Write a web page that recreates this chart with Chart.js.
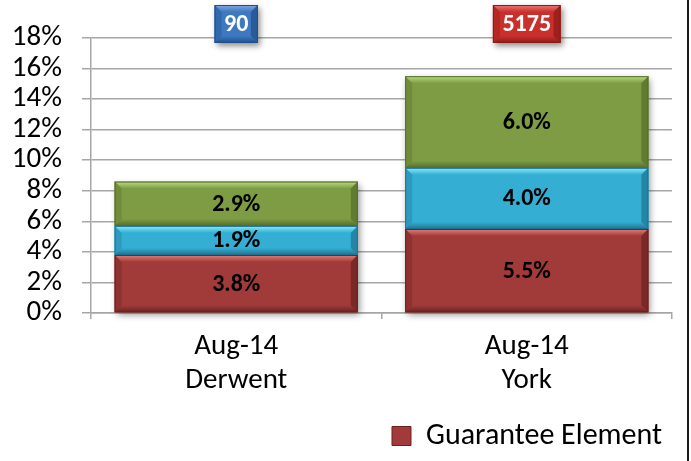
<!DOCTYPE html>
<html><head><meta charset="utf-8">
<script src="https://cdn.jsdelivr.net/npm/chart.js@4/dist/chart.umd.min.js"></script>
<style>
html,body{margin:0;padding:0;background:#fff;}
#wrap{position:relative;width:687px;height:461px;border-right:2px solid #1a1a1a;}
canvas{display:block;}
</style></head><body>
<div id="wrap"><canvas id="c" width="687" height="461"></canvas></div>
<script>
// ---- data ----
const categories = [["Aug-14", "Derwent"], ["Aug-14", "York"]];
const guaranteeElement = [3.8, 5.5];
const middleElement = [1.9, 4.0];
const topElement = [2.9, 6.0];
const headerCounts = [90, 5175];
const yMin = 0, yMax = 18, yStep = 2;

// ---- styles ----
const FONT = "Carlito, Lato, 'Open Sans', sans-serif";
const seriesStyle = [
  {base: '#A13B39', light: '#E57E7B', dark: '#6A2221'},
  {base: '#35AED4', light: '#86ECFF', dark: '#1E7391'},
  {base: '#7E9C43', light: '#BCDC80', dark: '#566D2B'}
];
const headerStyle = [
  {base: '#3D78C0', light: '#7FA9E0', dark: '#1F4E88'},
  {base: '#C9302C', light: '#EE7A76', dark: '#8A1A18'}
];
const gridColor = '#A6A6A6';

function bevelRect(ctx, l, t, r, b, st, d) {
  d = Math.min(d, (b - t) / 2.2, (r - l) / 2.2);
  ctx.save();
  ctx.fillStyle = st.base;
  ctx.fillRect(l, t, r - l, b - t);
  let g = ctx.createLinearGradient(0, t, 0, t + d);
  g.addColorStop(0, st.light); g.addColorStop(1, st.base);
  ctx.fillStyle = g;
  ctx.beginPath(); ctx.moveTo(l, t); ctx.lineTo(r, t); ctx.lineTo(r - d, t + d); ctx.lineTo(l + d, t + d); ctx.closePath(); ctx.fill();
  g = ctx.createLinearGradient(0, b - d, 0, b);
  g.addColorStop(0, st.base); g.addColorStop(1, st.dark);
  ctx.fillStyle = g;
  ctx.beginPath(); ctx.moveTo(l, b); ctx.lineTo(r, b); ctx.lineTo(r - d, b - d); ctx.lineTo(l + d, b - d); ctx.closePath(); ctx.fill();
  ctx.globalAlpha = 0.35;
  ctx.fillStyle = st.dark;
  ctx.beginPath(); ctx.moveTo(l, t); ctx.lineTo(l + d, t + d); ctx.lineTo(l + d, b - d); ctx.lineTo(l, b); ctx.closePath(); ctx.fill();
  ctx.globalAlpha = 0.7;
  ctx.beginPath(); ctx.moveTo(r, t); ctx.lineTo(r - d, t + d); ctx.lineTo(r - d, b - d); ctx.lineTo(r, b); ctx.closePath(); ctx.fill();
  ctx.globalAlpha = 1;
  ctx.strokeStyle = st.dark; ctx.lineWidth = 1;
  ctx.strokeRect(l + 0.5, t + 0.5, r - l - 1, b - t - 1);
  ctx.restore();
}

const shadowPlugin = {
  id: 'shadow',
  beforeDatasetsDraw(chart) {
    const ctx = chart.ctx;
    const metas = chart.data.datasets.map((d, i) => chart.getDatasetMeta(i));
    metas[0].data.forEach((el, i) => {
      const topEl = metas[metas.length - 1].data[i];
      const l = el.x - el.width / 2, r = el.x + el.width / 2;
      ctx.save();
      ctx.shadowColor = 'rgba(0,0,0,0.45)';
      ctx.shadowBlur = 7; ctx.shadowOffsetX = 2; ctx.shadowOffsetY = 3;
      ctx.fillStyle = '#777';
      ctx.fillRect(l, topEl.y, r - l, el.base - topEl.y);
      ctx.restore();
    });
  }
};

const bevelPlugin = {
  id: 'bevel',
  afterDatasetsDraw(chart) {
    const ctx = chart.ctx;
    chart.data.datasets.forEach((ds, di) => {
      const meta = chart.getDatasetMeta(di);
      meta.data.forEach((el) => {
        const l = el.x - el.width / 2, r = el.x + el.width / 2;
        const t = Math.min(el.y, el.base), b = Math.max(el.y, el.base);
        bevelRect(ctx, l, t, r, b, seriesStyle[di], 7);
      });
    });
    chart.data.datasets.forEach((ds, di) => {
      const meta = chart.getDatasetMeta(di);
      meta.data.forEach((el, i) => {
        ctx.save();
        ctx.font = "bold 24px " + FONT;
        ctx.fillStyle = '#000';
        ctx.textAlign = 'center'; ctx.textBaseline = 'middle';
        ctx.fillText(ds.data[i].toFixed(1) + '%', el.x, (el.y + el.base) / 2 + 1);
        ctx.restore();
      });
    });
    const meta0 = chart.getDatasetMeta(0);
    headerCounts.forEach((v, i) => {
      const x = meta0.data[i].x;
      ctx.save();
      ctx.font = "bold 24px " + FONT;
      const tw = ctx.measureText(String(v)).width;
      const w = tw + 19, h = 38, t = 5;
      const l = x - w / 2;
      ctx.shadowColor = 'rgba(0,0,0,0.45)';
      ctx.shadowBlur = 6; ctx.shadowOffsetX = 2; ctx.shadowOffsetY = 3;
      ctx.fillStyle = headerStyle[i].base;
      ctx.fillRect(l, t, w, h);
      ctx.restore();
      bevelRect(ctx, l, t, l + w, t + h, headerStyle[i], 7);
      ctx.save();
      ctx.font = "bold 24px " + FONT;
      ctx.fillStyle = '#fff';
      ctx.textAlign = 'center'; ctx.textBaseline = 'middle';
      ctx.fillText(String(v), x, t + h / 2 + 1);
      ctx.restore();
    });
  }
};

new Chart(document.getElementById('c'), {
  type: 'bar',
  data: {
    labels: categories,
    datasets: [
      {label: 'Guarantee Element', data: guaranteeElement, backgroundColor: seriesStyle[0].base},
      {label: 'Element 2', data: middleElement, backgroundColor: seriesStyle[1].base},
      {label: 'Element 3', data: topElement, backgroundColor: seriesStyle[2].base}
    ]
  },
  options: {
    responsive: false,
    animation: false,
    devicePixelRatio: 1,
    categoryPercentage: 0.837,
    barPercentage: 1.0,
    layout: {padding: {top: 38, left: 0, right: 15, bottom: 0}},
    plugins: {
      legend: {
        position: 'bottom', align: 'end',
        labels: {
          boxWidth: 19, boxHeight: 19,
          padding: 10,
          color: '#000',
          font: {size: 30, family: FONT},
          generateLabels: (chart) => [{
            text: chart.data.datasets[0].label, datasetIndex: 0,
            fillStyle: seriesStyle[0].base, strokeStyle: seriesStyle[0].dark, lineWidth: 1, hidden: false
          }]
        }
      },
      tooltip: {enabled: false}
    },
    scales: {
      x: {
        stacked: true,
        afterFit: (s) => { s.height = 98; },
        grid: {offset: true, drawOnChartArea: false, drawTicks: true, tickLength: 6, color: gridColor, lineWidth: 1.5},
        border: {display: true, color: gridColor, width: 1.5},
        ticks: {color: '#000', font: {size: 29, family: FONT, lineHeight: 1.2}, padding: 10, maxRotation: 0, autoSkip: false}
      },
      y: {
        stacked: true,
        min: yMin, max: yMax,
        afterFit: (s) => { s.width = 91; },
        grid: {color: gridColor, lineWidth: 1.5, tickLength: 9},
        border: {display: true, color: gridColor, width: 1.5},
        ticks: {stepSize: yStep, autoSkip: false, color: '#000', font: {size: 29, family: FONT}, padding: 20,
          callback: (v) => v + '%'}
      }
    }
  },
  plugins: [shadowPlugin, bevelPlugin]
});
</script>
</body></html>
